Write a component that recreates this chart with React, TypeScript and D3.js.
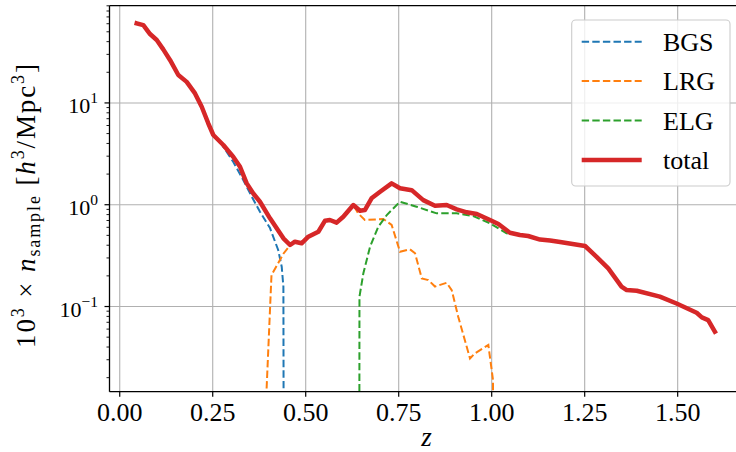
import React from "react";
import * as d3 from "d3";

const W = 736;
const H = 452;

const xTickValues = [0, 0.25, 0.5, 0.75, 1.0, 1.25, 1.5];
const xTickLabels = ["0.00", "0.25", "0.50", "0.75", "1.00", "1.25", "1.50"];
const yMajorValues = [0.1, 1, 10];
const yMajorExponents = ["−1", "0", "1"];

const total: [number, number][] = [
  [0.0457, 60.5], [0.0634, 58.2], [0.0815, 47.5], [0.0995, 41.5], [0.117, 33.6],
  [0.1355, 26.3], [0.1575, 18.8], [0.18, 16.1], [0.2024, 12.4], [0.2204, 9.18],
  [0.238, 6.31], [0.2516, 4.84], [0.2785, 3.86], [0.305, 2.96], [0.3234, 2.36],
  [0.3414, 1.62], [0.359, 1.29], [0.377, 1.07], [0.404, 0.735], [0.44, 0.468],
  [0.458, 0.402], [0.471, 0.433], [0.489, 0.418], [0.507, 0.485], [0.534, 0.543],
  [0.552, 0.697], [0.565, 0.708], [0.583, 0.666], [0.601, 0.762], [0.628, 0.993],
  [0.646, 0.873], [0.659, 0.887], [0.677, 1.156], [0.7, 1.34], [0.731, 1.62],
  [0.7535, 1.45], [0.785, 1.39], [0.816, 1.11], [0.8476, 0.978], [0.879, 0.993],
  [0.906, 0.901], [0.933, 0.842], [0.96, 0.811], [0.9954, 0.708], [1.018, 0.646],
  [1.049, 0.531], [1.076, 0.504], [1.098, 0.493], [1.13, 0.455], [1.157, 0.445],
  [1.184, 0.43], [1.251, 0.393], [1.282, 0.308], [1.3134, 0.237], [1.349, 0.157],
  [1.363, 0.145], [1.39, 0.143], [1.452, 0.125], [1.497, 0.107], [1.551, 0.0869],
  [1.565, 0.0783], [1.582, 0.0736], [1.6, 0.0565],
];

const bgs: [number, number][] = [
  [0.0457, 60.5], [0.0634, 58.2], [0.0815, 47.5], [0.0995, 41.5], [0.117, 33.6],
  [0.1355, 26.3], [0.1575, 18.8], [0.18, 16.1], [0.2024, 12.4], [0.2204, 9.18],
  [0.238, 6.31], [0.2516, 4.84], [0.2696, 4.16], [0.305, 2.64], [0.332, 1.75],
  [0.355, 1.2], [0.377, 0.853], [0.404, 0.59], [0.426, 0.359], [0.4355, 0.246],
  [0.44, 0.157], [0.4425, 0.000001],
];

const lrg: [number, number][] = [
  [0.39, 0.006], [0.408, 0.204], [0.44, 0.33], [0.458, 0.402], [0.471, 0.433],
  [0.489, 0.418], [0.507, 0.485], [0.534, 0.543], [0.552, 0.697], [0.565, 0.708],
  [0.583, 0.666], [0.601, 0.762], [0.628, 0.993], [0.641, 0.823], [0.659, 0.707],
  [0.7086, 0.724], [0.731, 0.633], [0.7535, 0.345], [0.78, 0.365], [0.794, 0.333],
  [0.812, 0.189], [0.8296, 0.182], [0.8476, 0.157], [0.879, 0.171], [0.8925, 0.145],
  [0.91, 0.0794], [0.9417, 0.0309], [0.955, 0.0347], [0.991, 0.0419], [1.0035, 0.019],
  [1.005, 0.000001],
];

const elg: [number, number][] = [
  [0.6435, 0.000001], [0.6445, 0.125], [0.655, 0.212], [0.673, 0.387], [0.695, 0.608],
  [0.718, 0.792], [0.7535, 1.07], [0.798, 0.956], [0.852, 0.823], [0.906, 0.823],
  [0.9505, 0.774], [0.9954, 0.657], [1.04, 0.524], [1.076, 0.504], [1.098, 0.493],
  [1.13, 0.455], [1.157, 0.445], [1.184, 0.43], [1.251, 0.393], [1.282, 0.308],
  [1.3134, 0.237], [1.349, 0.157], [1.363, 0.145], [1.39, 0.143], [1.452, 0.125],
  [1.497, 0.107], [1.551, 0.0869], [1.565, 0.0783], [1.582, 0.0736], [1.6, 0.0565],
];

const seriesNames = ["BGS", "LRG", "ELG", "total"];
const seriesColors = ["#1f77b4", "#ff7f0e", "#2ca02c", "#d62728"];

const LEFT = 109.5;
const RIGHT = 743.7;
const TOP = 5.7;
const BOTTOM = 391.7;
const FONT = "'Liberation Serif', 'Times New Roman', serif";

export default function App() {
  const x = d3.scaleLinear().domain([-0.0275, 1.6775]).range([LEFT, RIGHT]);
  const y = d3.scaleLog().domain([0.01456, 90.2]).range([BOTTOM, TOP]);
  const line = d3
    .line<[number, number]>()
    .x((d) => x(d[0]))
    .y((d) => y(Math.max(d[1], 1e-6)));

  const minor: number[] = [];
  for (let k = -2; k <= 1; k++) {
    for (let m = 2; m <= 9; m++) {
      const v = m * Math.pow(10, k);
      if (v > 0.01456 && v < 90.2) minor.push(v);
    }
  }

  const dashed = [bgs, lrg, elg];
  const dash = "7.4 3.2";

  return (
    <svg
      width={W}
      height={H}
      style={{ position: "absolute", left: 0, top: 0, background: "#fff" }}
      fontFamily={FONT}
    >
      <defs>
        <clipPath id="plotclip">
          <rect x={LEFT} y={TOP} width={RIGHT - LEFT} height={BOTTOM - TOP} />
        </clipPath>
      </defs>
      <rect x={0} y={0} width={W} height={H} fill="#fff" />
      {/* grid */}
      <g stroke="#b0b0b0" strokeWidth={1.1}>
        {xTickValues.map((v) => (
          <line key={"gx" + v} x1={x(v)} x2={x(v)} y1={TOP} y2={BOTTOM} />
        ))}
        {yMajorValues.map((v) => (
          <line key={"gy" + v} x1={LEFT} x2={RIGHT} y1={y(v)} y2={y(v)} />
        ))}
      </g>
      {/* series */}
      <g clipPath="url(#plotclip)" fill="none">
        {dashed.map((s, i) => (
          <path
            key={seriesNames[i]}
            d={line(s) || ""}
            stroke={seriesColors[i]}
            strokeWidth={2}
            strokeDasharray={dash}
          />
        ))}
        <path
          d={line(total) || ""}
          stroke={seriesColors[3]}
          strokeWidth={4.5}
          strokeLinejoin="round"
          strokeLinecap="square"
        />
      </g>
      {/* spines */}
      <g stroke="#000" strokeWidth={1.3} fill="none">
        <line x1={LEFT} x2={RIGHT} y1={BOTTOM} y2={BOTTOM} />
        <line x1={LEFT} x2={RIGHT} y1={TOP} y2={TOP} />
        <line x1={LEFT} x2={LEFT} y1={TOP} y2={BOTTOM} />
      </g>
      {/* x ticks */}
      <g>
        {xTickValues.map((v, i) => (
          <g key={"xt" + v}>
            <line x1={x(v)} x2={x(v)} y1={BOTTOM} y2={BOTTOM + 5} stroke="#000" strokeWidth={1.2} />
            <text x={x(v)} y={421} fontSize={26} textAnchor="middle" fill="#000">
              {xTickLabels[i]}
            </text>
          </g>
        ))}
      </g>
      {/* y ticks */}
      <g>
        {minor.map((v) => (
          <line key={"ym" + v} x1={LEFT - 3} x2={LEFT} y1={y(v)} y2={y(v)} stroke="#000" strokeWidth={0.9} />
        ))}
        {yMajorValues.map((v, i) => (
          <g key={"yt" + v}>
            <line x1={LEFT - 5} x2={LEFT} y1={y(v)} y2={y(v)} stroke="#000" strokeWidth={1.2} />
            <text x={98} y={y(v) + 10} fontSize={22} textAnchor="end" fill="#000">
              10
              <tspan fontSize={15.5} dy={-10}>
                {yMajorExponents[i]}
              </tspan>
            </text>
          </g>
        ))}
      </g>
      {/* axis labels */}
      <text x={x(0.825)} y={446} fontSize={27} fontStyle="italic" textAnchor="middle" fill="#000">
        z
      </text>
      <text
        transform={`translate(35,${206}) rotate(-90)`}
        fontSize={27}
        textAnchor="middle"
        fill="#000"
        textLength={284}
        lengthAdjust="spacing"
      >
        10
        <tspan fontSize={18} dy={-11}>3</tspan>
        <tspan dy={11}> × </tspan>
        <tspan fontStyle="italic">n</tspan>
        <tspan fontSize={18} dy={5}>sample</tspan>
        <tspan dy={-5}> [</tspan>
        <tspan fontStyle="italic">h</tspan>
        <tspan fontSize={18} dy={-11}>3</tspan>
        <tspan dy={11}>/Mpc</tspan>
        <tspan fontSize={18} dy={-11}>3</tspan>
        <tspan dy={11}>]</tspan>
      </text>
      {/* legend */}
      <g>
        <rect
          x={571.7}
          y={20}
          width={158.3}
          height={166}
          rx={4}
          fill="#fff"
          fillOpacity={0.8}
          stroke="#cccccc"
          strokeWidth={1.1}
        />
        {seriesNames.map((name, i) => {
          const cy = 41.7 + i * 39.4;
          return (
            <g key={"lg" + name}>
              <line
                x1={581.7}
                x2={641.7}
                y1={cy}
                y2={cy}
                stroke={seriesColors[i]}
                strokeWidth={i === 3 ? 4.5 : 2}
                strokeDasharray={i === 3 ? undefined : dash}
              />
              <text x={663} y={cy + 9} fontSize={26} fill="#000">
                {name}
              </text>
            </g>
          );
        })}
      </g>
    </svg>
  );
}
